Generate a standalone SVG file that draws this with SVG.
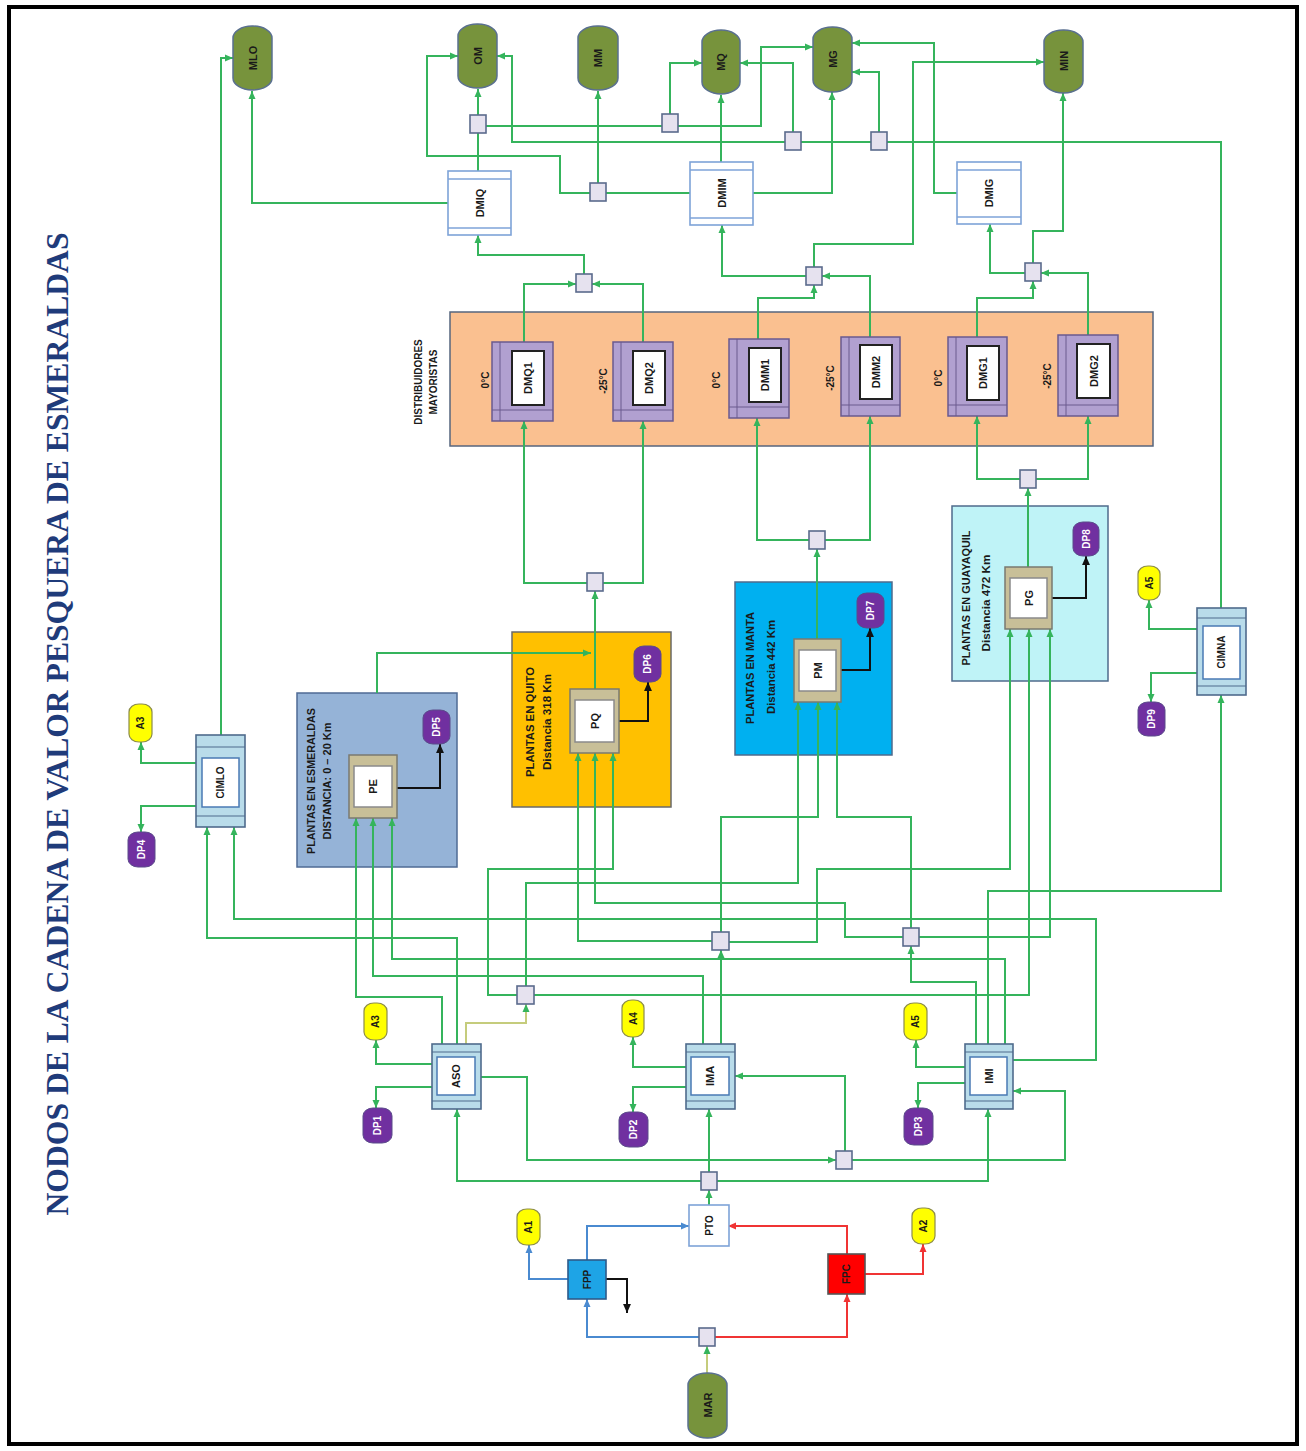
<svg xmlns="http://www.w3.org/2000/svg" width="1306" height="1451" viewBox="0 0 1306 1451">
<style>
text{font-family:"Liberation Sans",Arial,sans-serif;font-weight:bold;text-anchor:middle;dominant-baseline:central;fill:#1a1a1a}
.title{font-family:"Liberation Serif","Times New Roman",serif;font-size:31px;fill:#1f3b7a}
.lbl{font-size:11px}
.sm{font-size:10px}
.reg{font-size:10.5px}
.w{fill:#fff}
.c{fill:none;stroke:#35b45c;stroke-width:2;marker-end:url(#ag)}
.cn{fill:none;stroke:#35b45c;stroke-width:2}
.co{fill:none;stroke:#c5cc7c;stroke-width:2;marker-end:url(#ag)}
.cb{fill:none;stroke:#4a8ad0;stroke-width:2;marker-end:url(#ab)}
.cr{fill:none;stroke:#f03434;stroke-width:2;marker-end:url(#ar)}
.ck{fill:none;stroke:#111;stroke-width:2;marker-end:url(#ak)}
.j{fill:#e6e2ef;stroke:#5b6b8c;stroke-width:1.6}
.term{fill:#77933c;stroke:#5a7090;stroke-width:1.5}
.dm{fill:#fff;stroke:#7ea3d8;stroke-width:1.6}
.dml{stroke:#7ea3d8;stroke-width:1.3}
.pu{fill:#b1a0d0;stroke:#6a5a8e;stroke-width:1.5}
.pul{stroke:#6a5a8e;stroke-width:1}
.puin{fill:#fff;stroke:#222;stroke-width:2}
.ci{fill:#b9dcea;stroke:#4f6b8c;stroke-width:1.6}
.cil{stroke:#4f6b8c;stroke-width:1.2}
.ciin{fill:#fff;stroke:#4a7ab4;stroke-width:1.5}
.pl{fill:#c8bf98;stroke:#7a7a70;stroke-width:1.5}
.plin{fill:#fff;stroke:#8a8a8a;stroke-width:1.5}
.dp{fill:#7030a0;stroke:#5a4a8a;stroke-width:1}
.a{fill:#ffff00;stroke:#8c8c4a;stroke-width:1.2}
</style>
<defs>
<marker id="ag" markerUnits="userSpaceOnUse" markerWidth="8" markerHeight="8" viewBox="0 0 8 8" refX="8" refY="4" orient="auto"><path d="M0,0.5 L8,4 L0,7.5 z" fill="#35b45c"/></marker>
<marker id="ab" markerUnits="userSpaceOnUse" markerWidth="8" markerHeight="8" viewBox="0 0 8 8" refX="8" refY="4" orient="auto"><path d="M0,0.5 L8,4 L0,7.5 z" fill="#4a8ad0"/></marker>
<marker id="ar" markerUnits="userSpaceOnUse" markerWidth="8" markerHeight="8" viewBox="0 0 8 8" refX="8" refY="4" orient="auto"><path d="M0,0.5 L8,4 L0,7.5 z" fill="#f03434"/></marker>
<marker id="ak" markerUnits="userSpaceOnUse" markerWidth="9" markerHeight="9" viewBox="0 0 8 8" refX="8" refY="4" orient="auto"><path d="M0,0.5 L8,4 L0,7.5 z" fill="#111"/></marker>
</defs>
<rect x="0" y="0" width="1306" height="1451" fill="#fff"/>
<rect x="9" y="7" width="1288" height="1437" fill="none" stroke="#000" stroke-width="4"/>
<text class="title" transform="translate(57 724) rotate(-90)" textLength="983" lengthAdjust="spacingAndGlyphs">NODOS DE LA CADENA DE VALOR PESQUERA DE ESMERALDAS</text>

<!-- regions -->
<g id="region-distribuidores">
<rect x="450" y="312" width="703" height="134" fill="#fac090" stroke="#56657e" stroke-width="1.5"/>
<text class="sm" transform="translate(418 382) rotate(-90)">DISTRIBUIDORES</text>
<text class="sm" transform="translate(433 382) rotate(-90)">MAYORISTAS</text>
<text class="sm" transform="translate(485 380) rotate(-90)">0°C</text>
<text class="sm" transform="translate(603 381) rotate(-90)">-25°C</text>
<text class="sm" transform="translate(716 380) rotate(-90)">0°C</text>
<text class="sm" transform="translate(830 378) rotate(-90)">-25°C</text>
<text class="sm" transform="translate(938 378) rotate(-90)">0°C</text>
<text class="sm" transform="translate(1047 376) rotate(-90)">-25°C</text>
</g>
<g id="region-esmeraldas">
<rect x="297" y="693" width="160" height="174" fill="#95b3d7" stroke="#4f6b95" stroke-width="1.5"/>
<text class="reg" transform="translate(311 781) rotate(-90)" textLength="146" lengthAdjust="spacingAndGlyphs">PLANTAS EN  ESMERALDAS</text>
<text class="reg" transform="translate(327 781) rotate(-90)" textLength="117" lengthAdjust="spacingAndGlyphs">DISTANCIA: 0 – 20 Km</text>
</g>
<g id="region-quito">
<rect x="512" y="632" width="159" height="175" fill="#ffc000" stroke="#6a6a6a" stroke-width="1.5"/>
<text class="reg" transform="translate(530 722) rotate(-90)" textLength="110" lengthAdjust="spacingAndGlyphs">PLANTAS EN  QUITO</text>
<text class="reg" transform="translate(547 722) rotate(-90)" textLength="96" lengthAdjust="spacingAndGlyphs">Distancia 318 Km</text>
</g>
<g id="region-manta">
<rect x="735" y="582" width="157" height="173" fill="#00b0f0" stroke="#4f6b8c" stroke-width="1.5"/>
<text class="reg" transform="translate(750 668) rotate(-90)" textLength="112" lengthAdjust="spacingAndGlyphs">PLANTAS EN  MANTA</text>
<text class="reg" transform="translate(771 667) rotate(-90)" textLength="94" lengthAdjust="spacingAndGlyphs">Distancia 442 Km</text>
</g>
<g id="region-guayaquil">
<rect x="952" y="506" width="156" height="175" fill="#bff3f7" stroke="#4f6b8c" stroke-width="1.5"/>
<text class="reg" transform="translate(966 598) rotate(-90)" textLength="135" lengthAdjust="spacingAndGlyphs">PLANTAS EN  GUAYAQUIL</text>
<text class="reg" transform="translate(986 603) rotate(-90)" textLength="97" lengthAdjust="spacingAndGlyphs">Distancia 472 Km</text>
</g>

<g id="connectors">
<polyline class="c" points="221,735 221,58 233,58"/>
<polyline class="c" points="448,203 252,203 252,91"/>
<polyline class="cn" points="478,171 478,133"/>
<polyline class="c" points="478,115 478,89"/>
<polyline class="cn" points="486,126 662,126"/>
<polyline class="c" points="670,114 670,63 702,63"/>
<polyline class="c" points="678,126 761,126 761,47 813,47"/>
<polyline class="c" points="1221,608 1221,142 512,142 512,56 497,56"/>
<polyline class="c" points="793,132 793,63 740,63"/>
<polyline class="c" points="879,132 879,72 852,72"/>
<polyline class="c" points="590,193 560,193 560,156 427,156 427,56 458,56"/>
<polyline class="cn" points="690,193 606,193"/>
<polyline class="c" points="598,183 598,91"/>
<polyline class="c" points="721,162 721,95"/>
<polyline class="c" points="753,193 832,193 832,92"/>
<polyline class="c" points="957,193 934,193 934,43 852,43"/>
<polyline class="c" points="1033,263 1033,231 1063,231 1063,93"/>
<polyline class="c" points="814,267 814,244 913,244 913,62 1044,62"/>
<polyline class="c" points="584,274 584,255 478,255 478,235"/>
<polyline class="c" points="806,276 722,276 722,225"/>
<polyline class="c" points="1025,273 990,273 990,224"/>
<polyline class="c" points="524,342 524,284 576,284"/>
<polyline class="c" points="643,342 643,284 592,284"/>
<polyline class="c" points="758,339 758,298 814,298 814,285"/>
<polyline class="c" points="870,337 870,276 822,276"/>
<polyline class="c" points="977,337 977,298 1033,298 1033,281"/>
<polyline class="c" points="1088,335 1088,273 1041,273"/>
<polyline class="c" points="587,583 524,583 524,421"/>
<polyline class="c" points="603,583 643,583 643,421"/>
<polyline class="c" points="595,689 595,591"/>
<polyline class="c" points="809,540 757,540 757,418"/>
<polyline class="c" points="825,540 870,540 870,416"/>
<polyline class="c" points="817,639 817,549"/>
<polyline class="c" points="1020,479 977,479 977,416"/>
<polyline class="c" points="1036,479 1088,479 1088,416"/>
<polyline class="c" points="1028,567 1028,488"/>
<polyline class="c" points="377,693 377,653 591,653"/>
<polyline class="ck" points="397,788 440,788 440,744"/>
<polyline class="ck" points="619,721 648,721 648,682"/>
<polyline class="ck" points="841,670 870,670 870,628"/>
<polyline class="ck" points="1052,598 1086,598 1086,556"/>
<polyline class="c" points="1197,629 1149,629 1149,600"/>
<polyline class="c" points="1197,673 1151,673 1151,702"/>
<polyline class="c" points="196,763 141,763 141,742"/>
<polyline class="c" points="196,806 141,806 141,832"/>
<polyline class="c" points="442,1044 442,997 356,997 356,818"/>
<polyline class="c" points="703,1044 703,976 373,976 373,818"/>
<polyline class="c" points="1005,1044 1005,959 392,959 392,818"/>
<polyline class="c" points="1013,1060 1096,1060 1096,919 234,919 234,827"/>
<polyline class="c" points="457,1044 457,938 207,938 207,827"/>
<polyline class="co" points="466,1044 466,1023 526,1023 526,1004"/>
<polyline class="c" points="517,995 488,995 488,869 613,869 613,753"/>
<polyline class="c" points="526,986 526,883 798,883 798,702"/>
<polyline class="c" points="534,995 1029,995 1029,629"/>
<polyline class="c" points="721,1044 721,950"/>
<polyline class="c" points="712,941 578,941 578,753"/>
<polyline class="c" points="729,942 817,942 817,869 1010,869 1010,629"/>
<polyline class="c" points="721,932 721,817 818,817 818,702"/>
<polyline class="c" points="976,1044 976,982 911,982 911,946"/>
<polyline class="c" points="911,928 911,817 837,817 837,702"/>
<polyline class="c" points="903,937 845,937 845,903 595,903 595,753"/>
<polyline class="c" points="919,937 1050,937 1050,629"/>
<polyline class="c" points="988,1044 988,891 1221,891 1221,695"/>
<polyline class="c" points="432,1064 376,1064 376,1040"/>
<polyline class="c" points="432,1087 376,1087 376,1108"/>
<polyline class="c" points="686,1067 633,1067 633,1037"/>
<polyline class="c" points="686,1087 633,1087 633,1112"/>
<polyline class="c" points="965,1067 916,1067 916,1040"/>
<polyline class="c" points="965,1083 918,1083 918,1108"/>
<polyline class="c" points="481,1077 527,1077 527,1160 836,1160"/>
<polyline class="c" points="845,1151 845,1076 735,1076"/>
<polyline class="c" points="852,1160 1065,1160 1065,1091 1013,1091"/>
<polyline class="c" points="701,1181 457,1181 457,1109"/>
<polyline class="c" points="709,1172 709,1109"/>
<polyline class="c" points="717,1181 988,1181 988,1109"/>
<polyline class="c" points="709,1205 709,1190"/>
<polyline class="cb" points="587,1260 587,1226 689,1226"/>
<polyline class="cb" points="568,1279 529,1279 529,1245"/>
<polyline class="ck" points="606,1279 627,1279 627,1313"/>
<polyline class="cb" points="699,1337 587,1337 587,1299"/>
<polyline class="cr" points="715,1337 847,1337 847,1294"/>
<polyline class="cr" points="847,1254 847,1226 728,1226"/>
<polyline class="cr" points="865,1274 923,1274 923,1244"/>
<polyline class="co" points="707,1373 707,1346"/>
</g>

<!-- terminal markets -->
<g id="MLO"><rect class="term" x="233" y="26" width="39" height="64" rx="19" ry="12"/><text class="lbl" transform="translate(252.5 58) rotate(-90)">MLO</text></g>
<g id="OM"><rect class="term" x="458" y="24" width="39" height="64" rx="19" ry="12"/><text class="lbl" transform="translate(477.5 56) rotate(-90)">OM</text></g>
<g id="MM"><rect class="term" x="578" y="26" width="40" height="64" rx="19" ry="12"/><text class="lbl" transform="translate(598 58) rotate(-90)">MM</text></g>
<g id="MQ"><rect class="term" x="702" y="30" width="38" height="64" rx="19" ry="12"/><text class="lbl" transform="translate(721 62) rotate(-90)">MQ</text></g>
<g id="MG"><rect class="term" x="813" y="27" width="39" height="65" rx="19" ry="12"/><text class="lbl" transform="translate(832.5 59) rotate(-90)">MG</text></g>
<g id="MIN"><rect class="term" x="1044" y="30" width="39" height="63" rx="19" ry="12"/><text class="lbl" transform="translate(1063.5 61) rotate(-90)">MIN</text></g>
<g id="MAR"><rect class="term" x="688" y="1373" width="39" height="65" rx="19" ry="12"/><text class="lbl" transform="translate(707.5 1405) rotate(-90)">MAR</text></g>

<!-- wholesale distributors of cities -->
<g id="DMIQ"><rect class="dm" x="448" y="171" width="63" height="64"/><line class="dml" x1="448" y1="179" x2="511" y2="179"/><line class="dml" x1="448" y1="228" x2="511" y2="228"/><text class="lbl" transform="translate(479.5 203) rotate(-90)">DMIQ</text></g>
<g id="DMIM"><rect class="dm" x="690" y="162" width="63" height="63"/><line class="dml" x1="690" y1="170" x2="753" y2="170"/><line class="dml" x1="690" y1="218" x2="753" y2="218"/><text class="lbl" transform="translate(721.5 193) rotate(-90)">DMIM</text></g>
<g id="DMIG"><rect class="dm" x="957" y="162" width="64" height="62"/><line class="dml" x1="957" y1="170" x2="1021" y2="170"/><line class="dml" x1="957" y1="217" x2="1021" y2="217"/><text class="lbl" transform="translate(989 193) rotate(-90)">DMIG</text></g>

<!-- junctions -->
<g id="J_OM"><rect class="j" x="470" y="115" width="16" height="18"/></g>
<g id="J_MM"><rect class="j" x="590" y="183" width="16" height="18"/></g>
<g id="J_MQ"><rect class="j" x="662" y="114" width="16" height="18"/></g>
<g id="J_MG1"><rect class="j" x="785" y="132" width="16" height="18"/></g>
<g id="J_MG2"><rect class="j" x="871" y="132" width="16" height="18"/></g>
<g id="J_DMQ"><rect class="j" x="576" y="274" width="16" height="18"/></g>
<g id="J_DMM"><rect class="j" x="806" y="267" width="16" height="18"/></g>
<g id="J_DMG"><rect class="j" x="1025" y="263" width="16" height="18"/></g>
<g id="J_PQ"><rect class="j" x="587" y="573" width="16" height="18"/></g>
<g id="J_PM"><rect class="j" x="809" y="531" width="16" height="18"/></g>
<g id="J_PG"><rect class="j" x="1020" y="470" width="16" height="18"/></g>
<g id="J_ASO"><rect class="j" x="517" y="986" width="17" height="18"/></g>
<g id="J_IMA"><rect class="j" x="712" y="932" width="17" height="18"/></g>
<g id="J_IMI"><rect class="j" x="903" y="928" width="16" height="18"/></g>
<g id="J_BOT"><rect class="j" x="836" y="1151" width="16" height="18"/></g>
<g id="J_PTO"><rect class="j" x="701" y="1172" width="16" height="18"/></g>
<g id="J_MAR"><rect class="j" x="699" y="1328" width="16" height="18"/></g>

<!-- distribuidores mayoristas units -->
<g id="DMQ1"><rect class="pu" x="492" y="342" width="61" height="79"/><line class="pul" x1="500" y1="342" x2="500" y2="421"/><line class="pul" x1="492" y1="410" x2="553" y2="410"/><rect class="puin" x="512" y="351" width="32" height="54"/><text class="lbl" transform="translate(528 378) rotate(-90)">DMQ1</text></g>
<g id="DMQ2"><rect class="pu" x="613" y="342" width="60" height="79"/><line class="pul" x1="621" y1="342" x2="621" y2="421"/><line class="pul" x1="613" y1="410" x2="673" y2="410"/><rect class="puin" x="633" y="351" width="32" height="54"/><text class="lbl" transform="translate(649 378) rotate(-90)">DMQ2</text></g>
<g id="DMM1"><rect class="pu" x="729" y="339" width="60" height="79"/><line class="pul" x1="737" y1="339" x2="737" y2="418"/><line class="pul" x1="729" y1="407" x2="789" y2="407"/><rect class="puin" x="749" y="348" width="32" height="54"/><text class="lbl" transform="translate(765 375) rotate(-90)">DMM1</text></g>
<g id="DMM2"><rect class="pu" x="841" y="337" width="59" height="79"/><line class="pul" x1="849" y1="337" x2="849" y2="416"/><line class="pul" x1="841" y1="405" x2="900" y2="405"/><rect class="puin" x="860" y="345" width="32" height="54"/><text class="lbl" transform="translate(876 372) rotate(-90)">DMM2</text></g>
<g id="DMG1"><rect class="pu" x="948" y="337" width="59" height="79"/><line class="pul" x1="956" y1="337" x2="956" y2="416"/><line class="pul" x1="948" y1="405" x2="1007" y2="405"/><rect class="puin" x="967" y="346" width="32" height="54"/><text class="lbl" transform="translate(983 373) rotate(-90)">DMG1</text></g>
<g id="DMG2"><rect class="pu" x="1058" y="335" width="60" height="81"/><line class="pul" x1="1066" y1="335" x2="1066" y2="416"/><line class="pul" x1="1058" y1="405" x2="1118" y2="405"/><rect class="puin" x="1077" y="344" width="33" height="54"/><text class="lbl" transform="translate(1093.5 371) rotate(-90)">DMG2</text></g>

<!-- plants -->
<g id="PE"><rect class="pl" x="349" y="755" width="48" height="63"/><rect class="plin" x="354" y="766" width="38" height="41"/><text class="lbl" transform="translate(373 786.5) rotate(-90)">PE</text></g>
<g id="PQ"><rect class="pl" x="570" y="689" width="49" height="64"/><rect class="plin" x="575" y="700" width="39" height="42"/><text class="lbl" transform="translate(594.5 721) rotate(-90)">PQ</text></g>
<g id="PM"><rect class="pl" x="794" y="639" width="47" height="63"/><rect class="plin" x="799" y="650" width="37" height="41"/><text class="lbl" transform="translate(817.5 670.5) rotate(-90)">PM</text></g>
<g id="PG"><rect class="pl" x="1005" y="567" width="47" height="62"/><rect class="plin" x="1010" y="578" width="37" height="40"/><text class="lbl" transform="translate(1028.5 598) rotate(-90)">PG</text></g>

<!-- collection / intermediaries -->
<g id="CIMLO"><rect class="ci" x="196" y="735" width="49" height="92"/><line class="cil" x1="196" y1="747" x2="245" y2="747"/><line class="cil" x1="196" y1="816" x2="245" y2="816"/><rect class="ciin" x="202" y="758" width="37" height="49"/><text class="sm" transform="translate(220.5 782.5) rotate(-90)">CIMLO</text></g>
<g id="CIMNA"><rect class="ci" x="1197" y="608" width="49" height="87"/><line class="cil" x1="1197" y1="618" x2="1246" y2="618"/><line class="cil" x1="1197" y1="686" x2="1246" y2="686"/><rect class="ciin" x="1203" y="626" width="37" height="53"/><text class="sm" transform="translate(1221.5 652) rotate(-90)">CIMNA</text></g>
<g id="ASO"><rect class="ci" x="432" y="1044" width="49" height="65"/><line class="cil" x1="432" y1="1052" x2="481" y2="1052"/><line class="cil" x1="432" y1="1101" x2="481" y2="1101"/><rect class="ciin" x="437" y="1057" width="38" height="38"/><text class="lbl" transform="translate(456 1076) rotate(-90)">ASO</text></g>
<g id="IMA"><rect class="ci" x="686" y="1044" width="49" height="65"/><line class="cil" x1="686" y1="1052" x2="735" y2="1052"/><line class="cil" x1="686" y1="1101" x2="735" y2="1101"/><rect class="ciin" x="691" y="1057" width="38" height="38"/><text class="lbl" transform="translate(710 1076) rotate(-90)">IMA</text></g>
<g id="IMI"><rect class="ci" x="965" y="1044" width="48" height="65"/><line class="cil" x1="965" y1="1052" x2="1013" y2="1052"/><line class="cil" x1="965" y1="1101" x2="1013" y2="1101"/><rect class="ciin" x="970" y="1057" width="37" height="38"/><text class="lbl" transform="translate(988.5 1076) rotate(-90)">IMI</text></g>

<!-- discards (DP) -->
<g id="DP1"><rect class="dp" x="363" y="1108" width="29" height="35" rx="10" ry="8"/><text class="sm w" transform="translate(377.5 1125.5) rotate(-90)">DP1</text></g>
<g id="DP2"><rect class="dp" x="619" y="1112" width="29" height="35" rx="10" ry="8"/><text class="sm w" transform="translate(633.5 1129.5) rotate(-90)">DP2</text></g>
<g id="DP3"><rect class="dp" x="904" y="1108" width="29" height="37" rx="10" ry="8"/><text class="sm w" transform="translate(918.5 1126.5) rotate(-90)">DP3</text></g>
<g id="DP4"><rect class="dp" x="128" y="832" width="27" height="35" rx="10" ry="8"/><text class="sm w" transform="translate(141.5 849.5) rotate(-90)">DP4</text></g>
<g id="DP5"><rect class="dp" x="423" y="710" width="27" height="34" rx="10" ry="8"/><text class="sm w" transform="translate(436.5 727) rotate(-90)">DP5</text></g>
<g id="DP6"><rect class="dp" x="634" y="646" width="27" height="36" rx="10" ry="8"/><text class="sm w" transform="translate(647.5 664) rotate(-90)">DP6</text></g>
<g id="DP7"><rect class="dp" x="857" y="593" width="27" height="35" rx="10" ry="8"/><text class="sm w" transform="translate(870.5 610.5) rotate(-90)">DP7</text></g>
<g id="DP8"><rect class="dp" x="1073" y="522" width="26" height="34" rx="10" ry="8"/><text class="sm w" transform="translate(1086 539) rotate(-90)">DP8</text></g>
<g id="DP9"><rect class="dp" x="1138" y="702" width="27" height="34" rx="10" ry="8"/><text class="sm w" transform="translate(1151.5 719) rotate(-90)">DP9</text></g>

<!-- A nodes -->
<g id="A1"><rect class="a" x="517" y="1209" width="23" height="36" rx="10" ry="8"/><text class="sm" transform="translate(528.5 1227) rotate(-90)">A1</text></g>
<g id="A2"><rect class="a" x="912" y="1208" width="23" height="36" rx="10" ry="8"/><text class="sm" transform="translate(923.5 1226) rotate(-90)">A2</text></g>
<g id="A3_top"><rect class="a" x="129" y="704" width="23" height="38" rx="10" ry="8"/><text class="sm" transform="translate(140.5 723) rotate(-90)">A3</text></g>
<g id="A3"><rect class="a" x="364" y="1003" width="23" height="37" rx="10" ry="8"/><text class="sm" transform="translate(375.5 1021.5) rotate(-90)">A3</text></g>
<g id="A4"><rect class="a" x="622" y="1000" width="22" height="37" rx="10" ry="8"/><text class="sm" transform="translate(633 1018.5) rotate(-90)">A4</text></g>
<g id="A5"><rect class="a" x="904" y="1003" width="23" height="37" rx="10" ry="8"/><text class="sm" transform="translate(915.5 1021.5) rotate(-90)">A5</text></g>
<g id="A5_top"><rect class="a" x="1138" y="566" width="22" height="34" rx="10" ry="8"/><text class="sm" transform="translate(1149 583) rotate(-90)">A5</text></g>

<!-- fleets and port -->
<g id="PTO"><rect x="689" y="1205" width="40" height="41" fill="#fff" stroke="#7ea3d8" stroke-width="1.6"/><text class="sm" transform="translate(709 1225.5) rotate(-90)">PTO</text></g>
<g id="FPP"><rect x="568" y="1260" width="38" height="39" fill="#1ea4e6" stroke="#2d5a8a" stroke-width="1.6"/><text class="sm" transform="translate(587 1279.5) rotate(-90)">FPP</text></g>
<g id="FPC"><rect x="828" y="1254" width="37" height="40" fill="#ff0000" stroke="#555" stroke-width="1.6"/><text class="sm" transform="translate(846.5 1274) rotate(-90)">FPC</text></g>
</svg>
